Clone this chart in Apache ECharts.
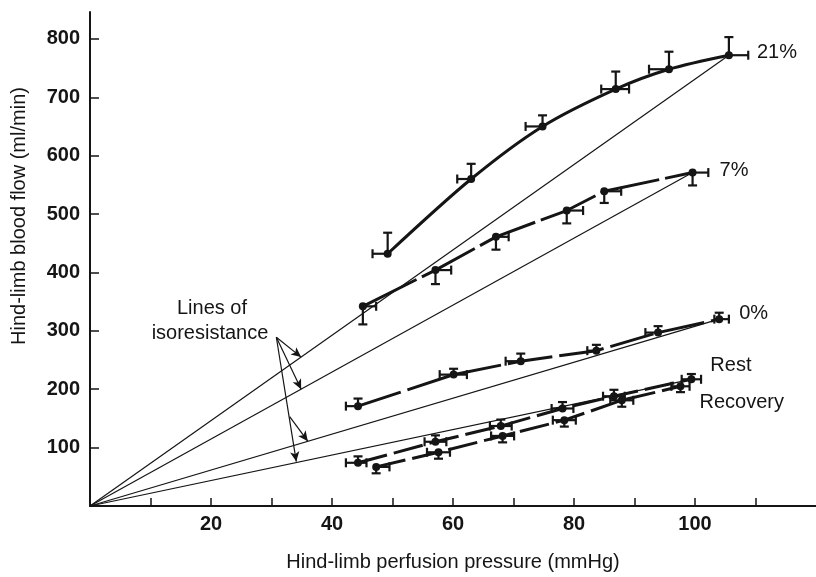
<!DOCTYPE html>
<html><head><meta charset="utf-8">
<script src="https://cdn.jsdelivr.net/npm/echarts@6/dist/echarts.min.js"></script>
<style>html,body{margin:0;padding:0;background:#fff}#c{width:816px;height:577px}</style>
</head><body><div id="c"></div>
<script>
// Hind-limb perfusion pressure (mmHg) and blood flow (ml/min)
// xl / xr: pressure error to left / right; ye: one-sided flow error (+ up, - down)
const s21_x  = [49.2, 63.0, 74.8, 86.9, 95.7, 105.6];
const s21_y  = [432, 560, 650, 714, 748, 772];
const s21_xl = [2.5, 2.3, 2.8, 2.4, 3.3, 0];
const s21_xr = [0, 0, 0, 2.2, 0, 3.2];
const s21_ye = [36, 26, 19, 30, 30, 31];

const s7_x  = [45.1, 57.1, 67.1, 78.8, 85.0, 99.6];
const s7_y  = [342, 404, 461, 506, 539, 571];
const s7_xl = [0, 0, 0, 0, 0, 0];
const s7_xr = [2.2, 2.6, 2.1, 2.7, 2.8, 2.6];
const s7_ye = [-31, -24, -22, -22, -20, -22];

const s0_x  = [44.3, 60.1, 71.2, 83.7, 93.9, 104.0];
const s0_y  = [171, 225, 248, 266, 297, 320];
const s0_xl = [2.0, 2.3, 2.5, 1.5, 2.1, 0.8];
const s0_xr = [0, 2.2, 0, 0, 0, 1.6];
const s0_ye = [13, 10, 13, 10, 11, 11];

const rest_x  = [44.3, 57.1, 67.9, 78.1, 86.6, 99.4];
const rest_y  = [74, 110, 137, 167, 188, 217];
const rest_xl = [2, 1.8, 1.8, 1.8, 1.8, 1.6];
const rest_xr = [1.4, 1.8, 1.8, 1.8, 1.8, 1.6];
const rest_ye = [11, 11, 11, 11, 11, 9];

const rec_x  = [47.3, 57.6, 68.2, 78.4, 87.9, 97.6];
const rec_y  = [67, 92, 120, 147, 181, 205];
const rec_xl = [0, 1.9, 1.9, 1.9, 1.9, 1.5];
const rec_xr = [2.2, 1.9, 1.9, 1.9, 1.9, 1.5];
const rec_ye = [-11, -11, -11, -11, -11, -10];

const seriesNames = ['21%', '7%', '0%', 'Rest', 'Recovery'];

const xTicks = [10, 20, 30, 40, 50, 60, 70, 80, 90, 100, 110];
const xTickLabels = [20, 40, 60, 80, 100];
const yTicks = [100, 200, 300, 400, 500, 600, 700, 800];

// annotation arrows (from label to isoresistance lines), data coords
const arrowOrigin = [30.8, 289];
const arrowTargets = [[34.9, 255], [34.9, 200], [34.1, 76]];
const arrow3From = [33.0, 153];
const arrow3To = [36.0, 111];

const FONT = '"Liberation Sans", Arial, Helvetica, sans-serif';
const INK = '#151515';

const groups = [
  {name: seriesNames[0], x: s21_x, y: s21_y, xl: s21_xl, xr: s21_xr, ye: s21_ye, smooth: 0.3, dash: 'solid', off: [19, -3]},
  {name: seriesNames[1], x: s7_x, y: s7_y, xl: s7_xl, xr: s7_xr, ye: s7_ye, smooth: 0, dash: [60, 6], off: [18, -2]},
  {name: seriesNames[2], x: s0_x, y: s0_y, xl: s0_xl, xr: s0_xr, ye: s0_ye, smooth: 0, dash: [45, 7], off: [11, -6]},
  {name: seriesNames[3], x: rest_x, y: rest_y, xl: rest_xl, xr: rest_xr, ye: rest_ye, smooth: 0, dash: [30, 7], off: [10, -14]},
  {name: seriesNames[4], x: rec_x, y: rec_y, xl: rec_xl, xr: rec_xr, ye: rec_ye, smooth: 0, dash: [30, 7], off: [10, 16]}
];

const series = [];

// isoresistance lines: origin to the last point of 21%, 7%, 0%, Rest
[0, 1, 2, 3].forEach(function (gi) {
  const g = groups[gi];
  const n = g.x.length - 1;
  series.push({
    type: 'line', silent: true, z: 2, symbol: 'none',
    data: [[0, 0], [g.x[n], g.y[n]]],
    lineStyle: {color: INK, width: 1.2}
  });
});

groups.forEach(function (g) {
  const n = g.x.length - 1;
  series.push({
    type: 'line', name: g.name, z: 6, smooth: g.smooth,
    symbol: 'circle', symbolSize: 8,
    itemStyle: {color: INK},
    lineStyle: {color: INK, width: 3, type: g.dash},
    data: g.x.map(function (x, i) {
      const item = {value: [x, g.y[i]]};
      if (i === n) {
        item.label = {show: true, position: 'right', formatter: g.name, offset: g.off,
          fontSize: 20, fontFamily: FONT, color: INK};
      }
      return item;
    })
  });
  series.push({
    type: 'custom', z: 5, silent: true,
    data: g.x.map(function (x, i) { return [x, g.y[i], g.xl[i], g.xr[i], g.ye[i]]; }),
    encode: {x: 0, y: 1},
    renderItem: function (params, api) {
      const x = api.value(0), y = api.value(1), l = api.value(2), r = api.value(3), e = api.value(4);
      const p = api.coord([x, y]);
      const st = {stroke: INK, lineWidth: 2.2};
      const cap = 4.5;
      const ch = [];
      if (l > 0 || r > 0) {
        const a = api.coord([x - l, y])[0], b = api.coord([x + r, y])[0];
        ch.push({type: 'line', shape: {x1: a, y1: p[1], x2: b, y2: p[1]}, style: st});
        if (l > 0) ch.push({type: 'line', shape: {x1: a, y1: p[1] - cap, x2: a, y2: p[1] + cap}, style: st});
        if (r > 0) ch.push({type: 'line', shape: {x1: b, y1: p[1] - cap, x2: b, y2: p[1] + cap}, style: st});
      }
      if (e !== 0) {
        const c = api.coord([x, y + e])[1];
        ch.push({type: 'line', shape: {x1: p[0], y1: p[1], x2: p[0], y2: c}, style: st});
        ch.push({type: 'line', shape: {x1: p[0] - cap, y1: c, x2: p[0] + cap, y2: c}, style: st});
      }
      return {type: 'group', children: ch};
    }
  });
});

// arrows
series.push({
  type: 'line', data: [], silent: true,
  markLine: {
    silent: true, symbol: ['none', 'arrow'], symbolSize: [7, 10],
    lineStyle: {color: INK, width: 1.2, type: 'solid'},
    label: {show: false},
    data: arrowTargets.map(function (t) { return [{coord: arrowOrigin}, {coord: t}]; })
      .concat([[{coord: arrow3From}, {coord: arrow3To}]])
  }
});

const chart = echarts.init(document.getElementById('c'), null, {renderer: 'canvas'});
chart.setOption({
  animation: false,
  backgroundColor: '#fff',
  grid: {left: 90, right: 0, top: 12, bottom: 57},
  xAxis: {
    type: 'value', min: 0, max: 120, interval: 10,
    name: 'Hind-limb perfusion pressure (mmHg)', nameLocation: 'middle', nameGap: 46,
    nameTextStyle: {fontSize: 20, fontFamily: FONT, color: INK},
    axisLine: {lineStyle: {color: INK, width: 2}},
    axisTick: {inside: true, length: 8, lineStyle: {color: INK, width: 1.5}, customValues: xTicks},
    axisLabel: {customValues: xTickLabels, fontSize: 20, fontWeight: 'bold', fontFamily: FONT, color: INK, margin: 8},
    splitLine: {show: false}
  },
  yAxis: {
    type: 'value', min: 0, max: 846, interval: 100,
    axisLine: {lineStyle: {color: INK, width: 2}},
    axisTick: {inside: true, length: 9, lineStyle: {color: INK, width: 1.5}, customValues: yTicks},
    axisLabel: {customValues: yTicks, fontSize: 20, fontWeight: 'bold', fontFamily: FONT, color: INK, margin: 10},
    splitLine: {show: false}
  },
  graphic: [
    {type: 'text', x: 19, y: 216, rotation: Math.PI / 2,
      style: {text: 'Hind-limb blood flow (ml/min)', font: '20px ' + FONT, fill: INK, textAlign: 'center', textVerticalAlign: 'middle'}},
    {type: 'text', x: 212, y: 308,
      style: {text: 'Lines of', font: '20px ' + FONT, fill: INK, textAlign: 'center', textVerticalAlign: 'middle'}},
    {type: 'text', x: 210, y: 333,
      style: {text: 'isoresistance', font: '20px ' + FONT, fill: INK, textAlign: 'center', textVerticalAlign: 'middle'}}
  ],
  series: series
});
</script>
</body></html>
